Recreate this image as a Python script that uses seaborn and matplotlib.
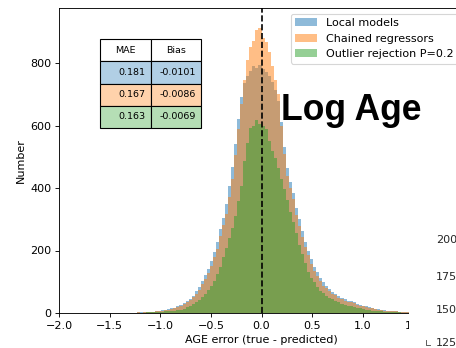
import numpy as np
import pandas as pd
import matplotlib
matplotlib.use("Agg")
import matplotlib.pyplot as plt
from matplotlib.patches import Patch, Rectangle
from matplotlib.lines import Line2D
from matplotlib.colors import to_rgb
import seaborn as sns

# Histogram bins for the age error (true - predicted)
bin_start, bin_width, n_bins = -1.23, 0.03, 92

series_names = ["Local models", "Chained regressors", "Outlier rejection P=0.2"]
series_colors = ["tab:blue", "tab:orange", "tab:green"]

local_counts = [
    2, 2, 3, 3, 4, 4, 6, 7, 9, 10, 12, 15, 17, 21, 27, 32, 39, 46, 56, 70,
    84, 102, 122, 142, 168, 195, 228, 268, 305, 350, 405, 468, 540, 620, 690, 735,
    760, 775, 790, 785, 795, 780, 770, 760, 740, 715, 680, 610, 530, 465, 420, 385,
    335, 300, 262, 228, 200, 172, 148, 132, 112, 98, 88, 78, 68, 62, 54, 48,
    44, 40, 37, 34, 30, 27, 24, 21, 18, 16, 14, 12, 10, 9, 8, 7,
    6, 5, 4, 4, 3, 2, 2, 1,
]
chained_counts = [
    2, 1, 3, 2, 4, 3, 5, 6, 8, 9, 11, 13, 15, 19, 24, 28, 35, 41, 50, 62,
    75, 92, 108, 127, 150, 178, 205, 245, 282, 318, 372, 430, 505, 590, 670, 745,
    810, 850, 872, 905, 912, 880, 868, 835, 790, 745, 700, 600, 510, 440, 400, 365,
    315, 280, 242, 212, 185, 158, 135, 120, 102, 88, 80, 70, 62, 57, 48, 44,
    40, 36, 34, 31, 27, 24, 22, 19, 16, 15, 13, 11, 9, 8, 7, 6,
    5, 5, 4, 3, 3, 2, 2, 1,
]
outlier_counts = [
    1, 1, 1, 2, 2, 2, 3, 3, 4, 5, 6, 7, 8, 9, 11, 14, 18, 23, 28, 35,
    42, 52, 62, 75, 88, 102, 125, 148, 178, 208, 240, 272, 310, 360, 405, 485,
    545, 592, 600, 618, 605, 598, 590, 550, 518, 495, 465, 428, 398, 362, 322, 292,
    255, 218, 190, 160, 132, 112, 98, 82, 72, 64, 56, 49, 44, 40, 35, 30,
    26, 24, 21, 19, 17, 15, 12, 11, 10, 8, 7, 6, 5, 4, 4, 3,
    2, 2, 2, 1, 1, 1, 1, 0,
]

# Summary statistics shown in the table
mae_values = ["0.181", "0.167", "0.163"]
bias_values = ["-0.0101", "-0.0086", "-0.0069"]
table_columns = ["MAE", "Bias"]

# Tick labels of the neighbouring panel
neighbour_ticks = ["200", "175", "150", "125"]

centers = bin_start + bin_width * (np.arange(n_bins) + 0.5)
bin_range = (bin_start, bin_start + bin_width * n_bins)

fig = plt.figure(figsize=(5.7, 4.35), dpi=80)
ax = fig.add_axes([59 / 456, 35 / 348, 405 / 456, 305 / 348])

for name, color, counts in zip(series_names, series_colors,
                               [local_counts, chained_counts, outlier_counts]):
    df = pd.DataFrame({"error": centers, "count": counts})
    sns.histplot(data=df, x="error", weights="count", bins=n_bins,
                 binrange=bin_range, element="step", fill=True, color=color,
                 alpha=0.5, linewidth=0, ax=ax)

ax.axvline(0, color="k", ls="--", lw=1.5)
ax.set_xlim(-2, 2)
ax.set_ylim(0, 976)
ax.set_xticks(np.arange(-2.0, 2.01, 0.5))
ax.set_yticks([0, 200, 400, 600, 800])
ax.set_xlabel("AGE error (true - predicted)")
ax.set_ylabel("Number")

handles = [Patch(facecolor=c, alpha=0.5, label=n)
           for n, c in zip(series_names, series_colors)]
ax.legend(handles=handles, loc="upper right")

# Stats table with pastel row colours
def pastel(c, a=0.35):
    r, g, b = to_rgb(c)
    return (1 - a + a * r, 1 - a + a * g, 1 - a + a * b)

cell_text = [[m, b] for m, b in zip(mae_values, bias_values)]
cell_colours = [[pastel(c), pastel(c)] for c in series_colors]
tbl = ax.table(cellText=cell_text, colLabels=table_columns,
               cellColours=cell_colours,
               bbox=[41 / 405, (313 - 128) / 305, 101 / 405, 89 / 305])
tbl.auto_set_font_size(False)
tbl.set_fontsize(8.5)

fig.text(281 / 456, 1 - 120 / 348, "Log Age", fontsize=32, fontweight="bold",
         family="Liberation Sans", ha="left", va="baseline")

# Neighbouring panel overlapping the lower right corner
fig.patches.append(Rectangle((409 / 456, 0), 1, (348 - 140) / 348,
                             transform=fig.transFigure, facecolor="white",
                             edgecolor="none", zorder=10))
for label, ypx in zip(neighbour_ticks, [240, 277, 310, 343]):
    fig.text(436 / 456, 1 - ypx / 348, label, fontsize=10, color="0.15",
             ha="left", va="center", zorder=11)
fig.add_artist(Line2D([426 / 456, 426 / 456, 430 / 456],
                      [1 - 340 / 348, 1 - 345 / 348, 1 - 345 / 348],
                      transform=fig.transFigure, color="0.3", lw=0.8,
                      zorder=11))

fig.savefig("out.png", dpi=80)
